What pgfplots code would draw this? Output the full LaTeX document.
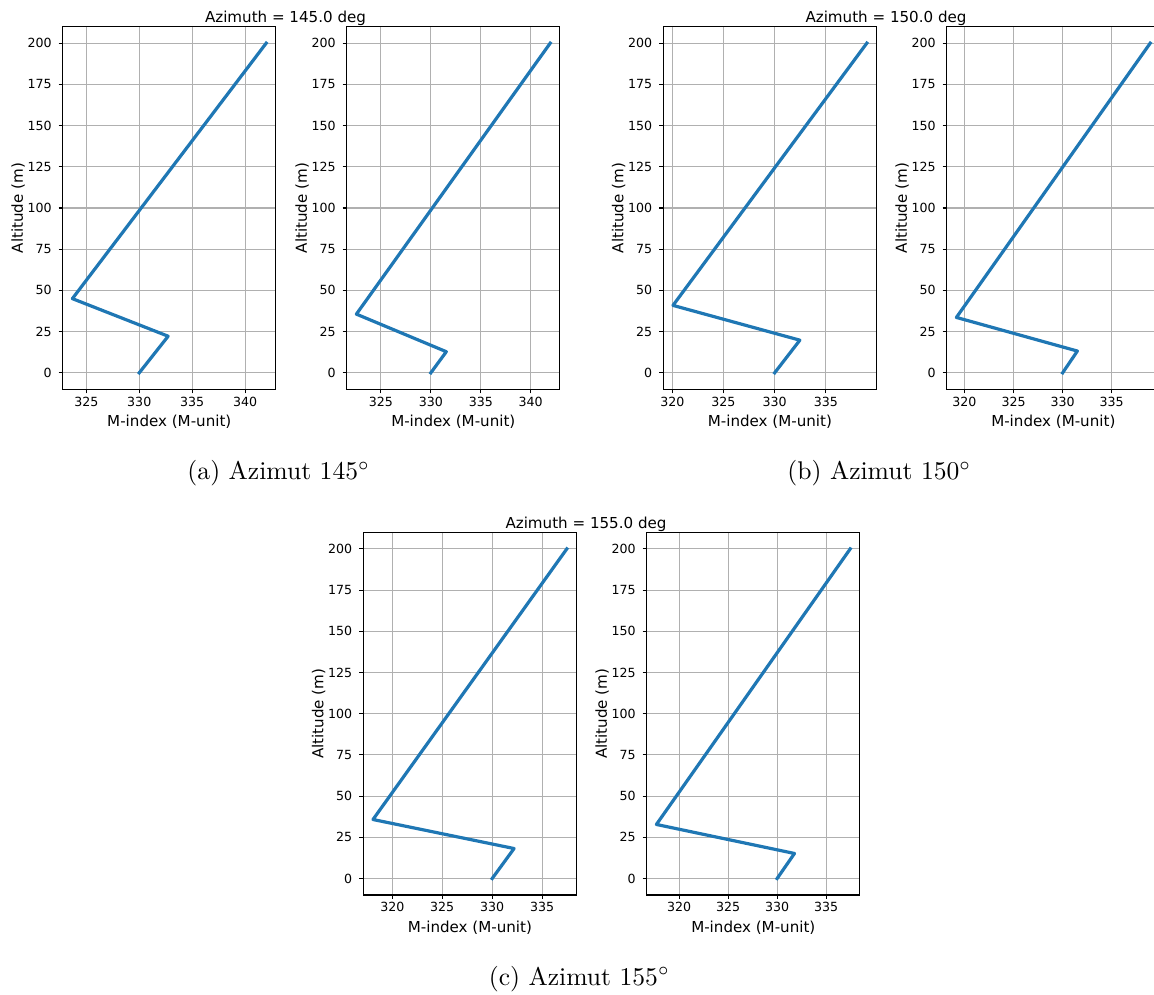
\documentclass[border=0pt]{standalone}
\usepackage{pgfplots}
\pgfplotsset{compat=1.18}
\usepackage{fontspec}
\newfontfamily\mpl{DejaVu Sans}
\definecolor{mplblue}{HTML}{1F77B4}
\newcommand{\tickfont}{\fontsize{6.3}{7}\selectfont\mpl}
\newcommand{\labfont}{\fontsize{7.55}{9}\selectfont\mpl}
\pgfplotsset{
  mstyle/.style={
    scale only axis, width=106.6pt, height=181.3pt,
    enlargelimits=0.05,
    ytick={0,25,...,200},
    grid=major,
    major grid style={color=black!31, line width=0.55pt},
    axis line style={line width=0.55pt, black},
    tick style={line width=0.55pt, black},
    tick align=outside, major tick length=2pt,
    xtick pos=bottom, ytick pos=left,
    tick label style={font=\tickfont},
    xticklabel style={yshift=1.8pt},
    /pgf/number format/assume math mode=true,
    label style={font=\labfont},
    xlabel={M-index (M-unit)}, ylabel={Altitude (m)},
    xlabel style={at={(axis description cs:0.5,-0.0894)}, anchor=center},
    ylabel style={at={(axis description cs:-0.209,0.5)}, anchor=center},
    anchor=south west,
  },
  mline/.style={color=mplblue, line width=1.6pt, line join=round, line cap=rect, mark=none},
}
\tikzset{capt/.style={font=\fontsize{10}{12}\selectfont, anchor=base, scale=1.28}}
\begin{document}
\begin{tikzpicture}
\useasboundingbox (0pt,0pt) rectangle (577pt,497pt);
% (a) Azimuth 145
\begin{axis}[mstyle, at={(31.35pt,302.35pt)}, xtick={325,330,335,340}]
\addplot[mline] coordinates {(330,0) (332.73,22.2) (323.68,45.0) (342.0,200)};
\end{axis}
\begin{axis}[mstyle, at={(173.35pt,302.35pt)}, xtick={325,330,335,340}]
\addplot[mline] coordinates {(330,0) (331.55,12.8) (322.55,35.6) (341.95,200)};
\end{axis}
\node[font=\labfont, anchor=base] at (142.75pt,485.65pt) {Azimuth = 145.0 deg};
\node[capt] at (139.35pt,257.35pt) {(a) Azimut 145$^\circ$};
% (b) Azimuth 150
\begin{axis}[mstyle, at={(331.65pt,302.35pt)}, xtick={320,325,330,335}]
\addplot[mline] coordinates {(330,0) (332.46,19.8) (320.07,40.9) (339.0,200)};
\end{axis}
\begin{axis}[mstyle, at={(473.35pt,302.35pt)}, xtick={320,325,330,335}]
\addplot[mline] coordinates {(330,0) (331.5,13.2) (319.18,33.6) (338.92,200)};
\end{axis}
\node[font=\labfont, anchor=base] at (443pt,485.65pt) {Azimuth = 150.0 deg};
\node[capt] at (439.65pt,257.35pt) {(b) Azimut 150$^\circ$};
% (c) Azimuth 155
\begin{axis}[mstyle, at={(181.65pt,49.5pt)}, xtick={320,325,330,335}]
\addplot[mline] coordinates {(330,0) (332.19,18.2) (318.07,35.8) (337.47,200)};
\end{axis}
\begin{axis}[mstyle, at={(323.35pt,49.5pt)}, xtick={320,325,330,335}]
\addplot[mline] coordinates {(330,0) (331.77,15.2) (317.68,32.8) (337.46,200)};
\end{axis}
\node[font=\labfont, anchor=base] at (293pt,232.75pt) {Azimuth = 155.0 deg};
\node[capt] at (289.65pt,4.45pt) {(c) Azimut 155$^\circ$};
\end{tikzpicture}
\end{document}
